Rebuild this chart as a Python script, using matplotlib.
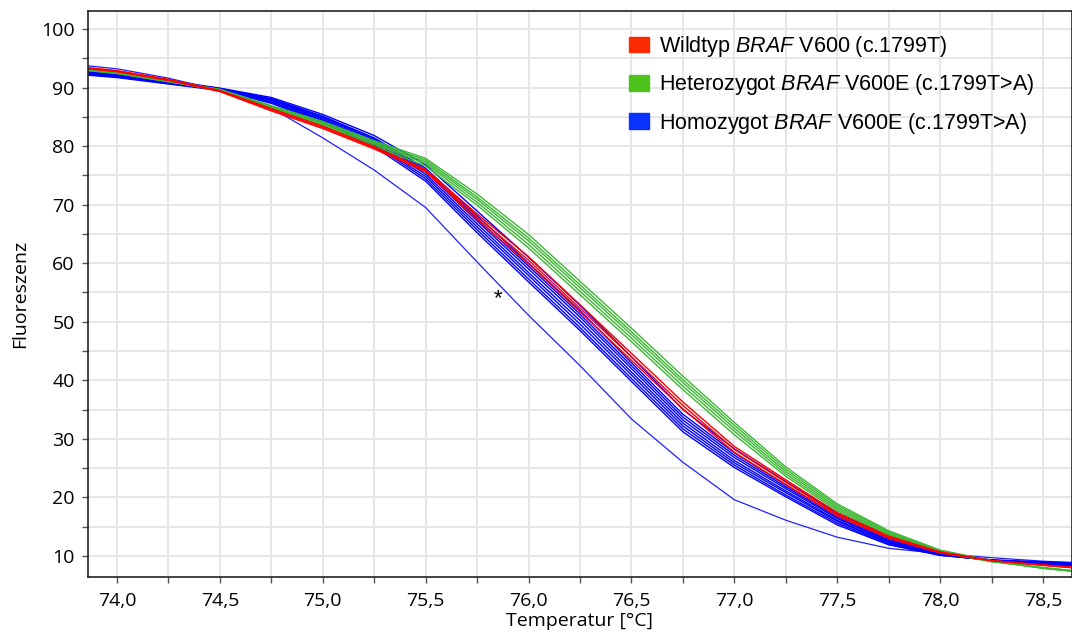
import matplotlib
matplotlib.use("Agg")
import matplotlib.pyplot as plt
from matplotlib.patches import Patch
from matplotlib.ticker import MultipleLocator

plt.rcParams['mathtext.fontset'] = 'custom'
plt.rcParams['mathtext.rm'] = 'Liberation Sans'
plt.rcParams['mathtext.it'] = 'Liberation Sans:italic'

# temperature grid (°C)
temp = [73.86, 74.0, 74.25, 74.5, 74.75, 75.0, 75.25, 75.5, 75.75, 76.0, 76.25,
        76.5, 76.75, 77.0, 77.25, 77.5, 77.75, 78.0, 78.25, 78.5, 78.64]

# Wildtyp curves
red_1 = [93.4, 92.9, 91.4, 89.5, 86.4, 83.4, 79.9, 76.0, 68.4, 61.1, 52.9, 44.6, 36.3, 28.7, 23.0, 17.4, 13.4, 10.7, 9.2, 8.4, 8.0]
red_2 = [93.3, 92.8, 91.3, 89.4, 86.2, 83.2, 79.7, 75.8, 67.9, 60.5, 52.3, 44.0, 35.7, 28.2, 22.6, 17.1, 13.2, 10.6, 9.2, 8.4, 8.0]
red_3 = [93.2, 92.7, 91.2, 89.3, 86.0, 83.0, 79.5, 75.6, 67.4, 59.9, 51.7, 43.4, 35.1, 27.7, 22.2, 16.8, 13.0, 10.5, 9.2, 8.5, 8.1]

# Heterozygot curves
green_1 = [93.1, 92.6, 91.2, 89.7, 86.9, 84.2, 80.9, 77.9, 71.8, 64.9, 56.9, 48.9, 40.7, 32.8, 25.2, 18.9, 14.3, 11.0, 9.2, 7.9, 7.4]
green_2 = [93.0, 92.6, 91.2, 89.6, 86.8, 84.0, 80.7, 77.6, 71.3, 64.3, 56.3, 48.3, 40.1, 32.3, 24.8, 18.6, 14.1, 10.9, 9.1, 7.9, 7.4]
green_3 = [93.0, 92.5, 91.1, 89.6, 86.7, 83.9, 80.5, 77.3, 70.9, 63.8, 55.8, 47.8, 39.6, 31.8, 24.4, 18.3, 13.9, 10.8, 9.1, 7.9, 7.4]
green_4 = [92.9, 92.4, 91.0, 89.5, 86.6, 83.7, 80.3, 77.0, 70.4, 63.2, 55.2, 47.2, 39.0, 31.3, 24.0, 18.0, 13.7, 10.7, 9.1, 8.0, 7.5]
green_5 = [92.9, 92.4, 91.0, 89.5, 86.5, 83.5, 80.0, 76.6, 69.9, 62.6, 54.6, 46.6, 38.4, 30.7, 23.6, 17.7, 13.5, 10.6, 9.0, 8.0, 7.5]

# Homozygot curves
blue_1 = [92.9, 92.5, 91.2, 89.9, 88.3, 85.4, 81.8, 76.8, 68.9, 61.0, 52.8, 44.0, 35.0, 28.3, 22.7, 17.3, 13.1, 10.6, 9.3, 8.6, 8.3]
blue_2 = [92.7, 92.3, 91.0, 89.8, 88.1, 85.1, 81.4, 76.2, 68.1, 60.0, 51.9, 43.0, 34.2, 27.6, 22.1, 16.9, 12.8, 10.5, 9.2, 8.6, 8.4]
blue_3 = [92.6, 92.2, 91.0, 89.8, 88.0, 85.0, 81.2, 75.9, 67.6, 59.5, 51.3, 42.5, 33.7, 27.2, 21.8, 16.6, 12.6, 10.4, 9.2, 8.7, 8.5]
blue_4 = [92.5, 92.1, 90.9, 89.7, 87.9, 84.8, 81.0, 75.6, 67.2, 59.0, 50.8, 42.0, 33.2, 26.8, 21.5, 16.4, 12.5, 10.3, 9.2, 8.7, 8.5]
blue_5 = [92.4, 92.0, 90.8, 89.7, 87.8, 84.6, 80.7, 75.2, 66.7, 58.4, 50.2, 41.4, 32.7, 26.3, 21.1, 16.1, 12.3, 10.2, 9.2, 8.8, 8.6]
blue_6 = [92.3, 91.9, 90.8, 89.6, 87.6, 84.4, 80.4, 74.8, 66.2, 57.9, 49.6, 40.9, 32.2, 25.9, 20.8, 15.9, 12.2, 10.2, 9.3, 8.8, 8.6]
blue_7 = [92.2, 91.8, 90.7, 89.6, 87.5, 84.2, 80.2, 74.4, 65.7, 57.3, 49.0, 40.3, 31.7, 25.5, 20.4, 15.6, 12.0, 10.1, 9.3, 8.9, 8.7]
blue_8 = [92.1, 91.7, 90.6, 89.5, 87.3, 84.0, 79.9, 74.0, 65.2, 56.8, 48.5, 39.8, 31.2, 25.1, 20.1, 15.3, 11.9, 10.1, 9.3, 9.0, 8.8]
# the single early-melting sample marked with *
blue_star = [93.7, 93.2, 91.6, 89.5, 86.5, 81.4, 75.9, 69.5, 60.2, 51.1, 42.5, 33.4, 26.0, 19.6, 16.1, 13.2, 11.3, 10.4, 9.7, 9.1, 8.9]

labels = ['Wildtyp $\\mathit{BRAF}$ V600 (c.1799T)',
          'Heterozygot $\\mathit{BRAF}$ V600E (c.1799T>A)',
          'Homozygot $\\mathit{BRAF}$ V600E (c.1799T>A)']

RED = '#ff0000'
GREEN = '#3cb832'
BLUE = '#0000ff'

fig = plt.figure(figsize=(10.72, 6.34), dpi=100)
ax = fig.add_axes([88/1072, 57/634, 984/1072, 566/634])

ax.plot(temp, blue_star, color='#2020ff', lw=0.9)
for c in [blue_1, blue_2, blue_3, blue_4, blue_5, blue_6, blue_7, blue_8]:
    ax.plot(temp, c, color=BLUE, lw=1.0)
for c in [green_1, green_2, green_3, green_4, green_5]:
    ax.plot(temp, c, color=GREEN, lw=1.0)
for c in [red_1, red_2, red_3]:
    ax.plot(temp, c, color=RED, lw=1.0)

ax.text(75.85, 54.0, '*', ha='center', va='center', fontsize=16, color='black',
        family='Liberation Sans')

ax.set_xlim(73.859, 78.641)
ax.set_ylim(6.4, 103.07)
ax.xaxis.set_minor_locator(MultipleLocator(0.25))
ax.yaxis.set_major_locator(MultipleLocator(10))
ax.yaxis.set_minor_locator(MultipleLocator(5))
xt = [74.0, 74.5, 75.0, 75.5, 76.0, 76.5, 77.0, 77.5, 78.0, 78.5]
ax.set_xticks(xt)
ax.set_xticklabels([('%.1f' % t).replace('.', ',') for t in xt])

ax.grid(True, which='both', color='#e6e6e6', lw=1.4)
ax.set_axisbelow(True)
ax.tick_params(which='both', direction='out', length=4, width=1, color='#555555',
               labelsize=14, labelcolor='black')
ax.tick_params(axis='x', which='major', pad=6.5)
ax.tick_params(axis='y', which='major', pad=5.5)
for lab in ax.get_xticklabels() + ax.get_yticklabels():
    lab.set_family('Open Sans')
for s in ax.spines.values():
    s.set_color('#222222')
    s.set_linewidth(1.2)

ax.set_xlabel('Temperatur [°C]', family='Open Sans', fontsize=14, labelpad=2)
ax.set_ylabel('Fluoreszenz', family='Open Sans', fontsize=14, labelpad=9)

handles = [Patch(color='#ff2a00'), Patch(color='#4cc21a'), Patch(color='#0a32ff')]
leg = ax.legend(handles, labels, loc='upper left', bbox_to_anchor=(629/1072, 1-34/634),
                bbox_transform=fig.transFigure, frameon=False,
                prop={'family': 'Liberation Sans', 'size': 15.5},
                handlelength=0.93, handleheight=0.74, handletextpad=0.48,
                labelspacing=0.62, borderaxespad=0, borderpad=0)

fig.savefig('out.png', dpi=100)
